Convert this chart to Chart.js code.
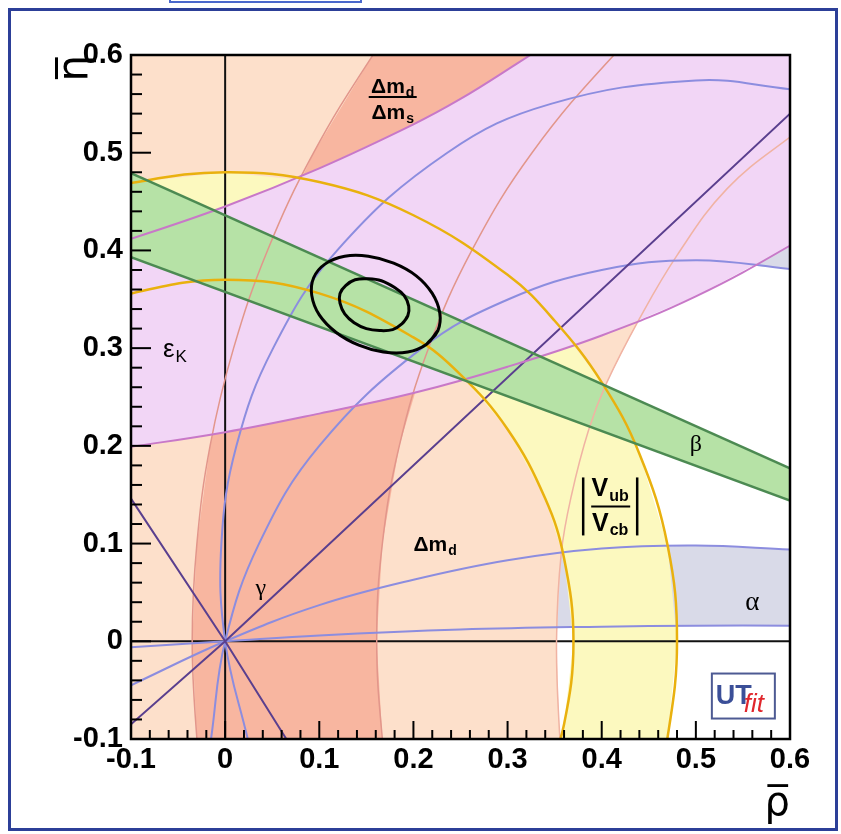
<!DOCTYPE html>
<html>
<head>
<meta charset="utf-8">
<script src="https://cdn.jsdelivr.net/npm/chart.js@4.4.1/dist/chart.umd.min.js"></script>
<style>
  html, body { margin: 0; padding: 0; background: #fff; }
  #wrap { position: relative; width: 841px; height: 834px; overflow: hidden; }
  #frame { position: absolute; left: 8px; top: 8px; width: 830px; height: 823px; border: 3px solid #2c3f98; box-sizing: border-box; pointer-events: none; }
  #tab { position: absolute; left: 169px; top: -4px; width: 193px; height: 7px; border: 2px solid #4a68cc; box-sizing: border-box; pointer-events: none; }
</style>
</head>
<body>
<div id="wrap">
  <canvas id="ut" width="841" height="834"></canvas>
  <div id="frame"></div>
  <div id="tab"></div>
</div>
<script>
// axis ticks
const xTickValues = [-0.1, 0, 0.1, 0.2, 0.3, 0.4, 0.5, 0.6];
const xTickLabels = ["-0.1", "0", "0.1", "0.2", "0.3", "0.4", "0.5", "0.6"];
const yTickValues = [-0.1, 0, 0.1, 0.2, 0.3, 0.4, 0.5, 0.6];
const yTickLabels = ["-0.1", "0", "0.1", "0.2", "0.3", "0.4", "0.5", "0.6"];

// constraint boundaries, [rho, eta]
// dm_d : inner edge of the wide band (left side is all inside)
const dmdEdge = [[0.66, 0.556], [0.6, 0.516], [0.533, 0.463], [0.48, 0.395], [0.44, 0.33], [0.405, 0.264],
  [0.386, 0.216], [0.368, 0.15], [0.357, 0.09], [0.352, 0.0], [0.355, -0.09], [0.36, -0.15]];
// dm_d / dm_s band
const dmsOuter = [[-0.024, -0.15], [-0.03, -0.1], [-0.035, 0], [-0.03, 0.1], [-0.016, 0.2], [0.009, 0.3],
  [0.045, 0.4], [0.094, 0.5], [0.157, 0.6], [0.195, 0.65]];
const dmsInner = [[0.175, -0.15], [0.167, -0.1], [0.161, 0], [0.167, 0.1], [0.185, 0.2], [0.216, 0.3],
  [0.262, 0.4], [0.326, 0.5], [0.413, 0.6], [0.469, 0.65]];
// |Vub/Vcb| ring
const vubOuter = [[-0.15, 0.456], [-0.1, 0.469], [0, 0.48], [0.1, 0.47], [0.2, 0.436], [0.3, 0.375],
  [0.35, 0.328], [0.4, 0.265], [0.44, 0.192], [0.47, 0.098], [0.48, 0], [0.47, -0.098], [0.456, -0.15]];
const vubInner = [[-0.15, 0.338], [-0.1, 0.356], [0, 0.37], [0.1, 0.356], [0.2, 0.311], [0.25, 0.273],
  [0.3, 0.217], [0.34, 0.146], [0.36, 0.085], [0.37, 0], [0.36, -0.085], [0.34, -0.146]];
// epsilon_K
const ekLower = [[-0.15, 0.192], [-0.1, 0.199], [0, 0.214], [0.1, 0.233], [0.2, 0.254], [0.3, 0.281],
  [0.4, 0.313], [0.5, 0.353], [0.6, 0.405], [0.65, 0.437]];
const ekUpper = [[-0.15, 0.398], [-0.1, 0.412], [0, 0.445], [0.1, 0.484], [0.2, 0.529], [0.25, 0.555],
  [0.3, 0.585], [0.35, 0.617], [0.4, 0.654]];
// sin 2 beta
const betaUpper = [[-0.1, 0.479], [0.6, 0.177]];
const betaLower = [[-0.1, 0.393], [0.6, 0.144]];
// alpha, lower and upper solutions
const alphaLowUpper = [[-0.1, -0.045], [0, 0], [0.1, 0.037], [0.2, 0.063], [0.3, 0.083], [0.4, 0.095], [0.5, 0.098], [0.6, 0.094]];
const alphaLowLower = [[-0.1, -0.006], [0, 0], [0.1, 0.006], [0.25, 0.012], [0.4, 0.015], [0.5, 0.016], [0.6, 0.016]];
const alphaArcA = [[0.024, -0.1], [0, 0], [-0.004, 0.1], [0.012, 0.2], [0.051, 0.3], [0.119, 0.4], [0.236, 0.5],
  [0.346, 0.55], [0.5, 0.574], [0.6, 0.565]];
const alphaArcB = [[-0.015, -0.1], [0, 0], [0.036, 0.1], [0.1, 0.2], [0.209, 0.3], [0.301, 0.35], [0.4, 0.38],
  [0.5, 0.39], [0.6, 0.381]];
// gamma
const gammaA = [[-0.1, -0.085], [0, 0], [0.6, 0.54]];
const gammaB = [[-0.1, 0.146], [0, 0], [0.065, -0.1]];
// fit contours (95% and 68%), traced around; first two points repeated to close smoothly
const contour95 = [[0.226, 0.318], [0.214, 0.304], [0.194, 0.296], [0.168, 0.296], [0.142, 0.303], [0.118, 0.316],
  [0.1, 0.334], [0.092, 0.354], [0.094, 0.372], [0.106, 0.386], [0.127, 0.394], [0.152, 0.394],
  [0.179, 0.387], [0.203, 0.374], [0.22, 0.356], [0.228, 0.336], [0.226, 0.318], [0.214, 0.304]];
const contour68 = [[0.194, 0.333], [0.188, 0.325], [0.178, 0.319], [0.164, 0.318], [0.15, 0.32], [0.137, 0.326],
  [0.127, 0.335], [0.122, 0.346], [0.122, 0.356], [0.128, 0.364], [0.138, 0.37], [0.152, 0.371],
  [0.166, 0.369], [0.18, 0.362], [0.19, 0.354], [0.195, 0.343], [0.194, 0.333], [0.188, 0.325]];
// axes through the origin
const rhoZero = [[0, -0.1], [0, 0.6]];
const etaZero = [[-0.1, 0], [0.6, 0]];

const pts = arr => arr.map(p => ({ x: p[0], y: p[1] }));
const rev = arr => arr.slice().reverse();

function area(points, color, order) {
  return { data: pts(points), fill: 'shape', backgroundColor: color, borderWidth: 0, tension: 0, order: order };
}
function curve(points, color, width, tension, order) {
  return { data: pts(points), fill: false, borderColor: color, borderWidth: width, tension: tension, order: order };
}

const datasets = [
  // filled regions, bottom first
  area(alphaLowUpper.concat(rev(alphaLowLower)), '#d9dae8', 100),
  area(alphaArcA.concat(rev(alphaArcB)), '#d9dae8', 99),
  area([[-0.2, 0.7], [0.7, 0.7], [0.7, 0.556]].concat(dmdEdge, [[0.36, -0.2], [-0.2, -0.2]]), '#fde0cb', 90),
  area(dmsOuter.concat(rev(dmsInner)), '#f8b6a0', 80),
  area(vubOuter.concat(rev(vubInner)), '#fcf9bf', 70),
  area(ekLower.concat([[0.7, 0.45], [0.7, 0.7], [0.4, 0.7]], rev(ekUpper)), '#f2d6f6', 60),
  area(betaUpper.concat(rev(betaLower)), '#b6e2a6', 50),
  // boundary lines
  curve(rhoZero, '#111', 2, 0, 30),
  curve(etaZero, '#111', 2, 0, 30),
  curve(dmdEdge, '#f0b3a3', 1.5, 0.4, 20),
  curve(dmsOuter, '#e2968b', 1.5, 0.4, 20),
  curve(dmsInner, '#e2968b', 1.5, 0.4, 20),
  curve(alphaLowUpper, '#8c8ddf', 2, 0.4, 18),
  curve(alphaLowLower, '#8c8ddf', 2, 0.4, 18),
  curve(alphaArcA, '#8c8ddf', 2, 0.4, 18),
  curve(alphaArcB, '#8c8ddf', 2, 0.4, 18),
  curve(gammaA, '#5a3f8e', 2, 0, 16),
  curve(gammaB, '#5a3f8e', 2, 0, 16),
  curve(ekLower, '#c878c8', 2, 0.4, 14),
  curve(ekUpper, '#c878c8', 2, 0.4, 14),
  curve(vubOuter, '#e9b10e', 2.5, 0.4, 12),
  curve(vubInner, '#e9b10e', 2.5, 0.4, 12),
  curve(betaUpper, '#4c8a52', 2.5, 0, 10),
  curve(betaLower, '#4c8a52', 2.5, 0, 10),
  curve(contour95, '#000', 3, 0.4, 1),
  curve(contour68, '#000', 3, 0.4, 1)
];

// inward ROOT-style ticks and the plot frame
const framePlugin = {
  id: 'frame',
  afterDatasetsDraw(chart) {
    const { ctx, chartArea: a, scales: { x, y } } = chart;
    ctx.save();
    ctx.strokeStyle = '#000';
    ctx.lineWidth = 2.5;
    ctx.strokeRect(a.left, a.top, a.right - a.left, a.bottom - a.top);
    ctx.lineWidth = 2;
    for (let i = 0; i < xTickValues.length; i++) {
      const v = xTickValues[i];
      const p = x.getPixelForValue(v);
      ctx.beginPath(); ctx.moveTo(p, a.bottom); ctx.lineTo(p, a.bottom - 18); ctx.stroke();
      if (i < xTickValues.length - 1) {
        for (let k = 1; k < 5; k++) {
          const q = x.getPixelForValue(v + k * 0.02);
          ctx.beginPath(); ctx.moveTo(q, a.bottom); ctx.lineTo(q, a.bottom - 9); ctx.stroke();
        }
      }
    }
    for (let i = 0; i < yTickValues.length; i++) {
      const v = yTickValues[i];
      const p = y.getPixelForValue(v);
      ctx.beginPath(); ctx.moveTo(a.left, p); ctx.lineTo(a.left + 20, p); ctx.stroke();
      if (i < yTickValues.length - 1) {
        for (let k = 1; k < 5; k++) {
          const q = y.getPixelForValue(v + k * 0.02);
          ctx.beginPath(); ctx.moveTo(a.left, q); ctx.lineTo(a.left + 11, q); ctx.stroke();
        }
      }
    }
    ctx.restore();
  }
};

function subText(ctx, base, sub, x, y, f1, f2, drop) {
  ctx.font = f1;
  const w = ctx.measureText(base).width;
  ctx.fillText(base, x, y);
  ctx.font = f2;
  ctx.fillText(sub, x + w + 1, y + drop);
  return w + 1 + ctx.measureText(sub).width;
}
function subWidth(ctx, base, sub, f1, f2) {
  ctx.font = f1; const w = ctx.measureText(base).width;
  ctx.font = f2; return w + 1 + ctx.measureText(sub).width;
}

const B21 = 'bold 21px "Liberation Sans"', B14 = 'bold 14px "Liberation Sans"';
const B25 = 'bold 25px "Liberation Sans"', B16 = 'bold 16px "Liberation Sans"';

// constraint labels
const labelPlugin = {
  id: 'labels',
  afterDatasetsDraw(chart) {
    const { ctx, scales: { x, y } } = chart;
    ctx.save();
    ctx.fillStyle = '#000';
    ctx.strokeStyle = '#000';
    ctx.textBaseline = 'alphabetic';
    ctx.textAlign = 'left';

    // dm_d / dm_s
    let cx = x.getPixelForValue(0.178), cy = y.getPixelForValue(0.557);
    let w = subWidth(ctx, '\u0394m', 'd', B21, B14);
    subText(ctx, '\u0394m', 'd', cx - w / 2, cy - 4, B21, B14, 4);
    w = subWidth(ctx, '\u0394m', 's', B21, B14);
    subText(ctx, '\u0394m', 's', cx - w / 2, cy + 22, B21, B14, 4);
    ctx.lineWidth = 2;
    ctx.beginPath(); ctx.moveTo(cx - 24, cy); ctx.lineTo(cx + 24, cy); ctx.stroke();

    // dm_d
    subText(ctx, '\u0394m', 'd', x.getPixelForValue(0.2), y.getPixelForValue(0.092), B21, B14, 4);

    // eps_K
    subText(ctx, '\u03b5', 'K', x.getPixelForValue(-0.066), y.getPixelForValue(0.291),
      '26px "Liberation Sans"', '17px "Liberation Sans"', 5);

    // greek single letters
    ctx.textAlign = 'center';
    ctx.font = '24px "Liberation Serif"';
    ctx.fillText('\u03b3', x.getPixelForValue(0.038), y.getPixelForValue(0.047));
    ctx.fillText('\u03b2', x.getPixelForValue(0.5), y.getPixelForValue(0.195));
    ctx.font = '27px "Liberation Serif"';
    ctx.fillText('\u03b1', x.getPixelForValue(0.56), y.getPixelForValue(0.032));

    // |Vub / Vcb|
    ctx.textAlign = 'left';
    cx = x.getPixelForValue(0.409); cy = y.getPixelForValue(0.138);
    w = subWidth(ctx, 'V', 'ub', B25, B16);
    subText(ctx, 'V', 'ub', cx - w / 2, cy - 10, B25, B16, 5);
    w = subWidth(ctx, 'V', 'cb', B25, B16);
    subText(ctx, 'V', 'cb', cx - w / 2, cy + 25, B25, B16, 4);
    ctx.lineWidth = 2;
    ctx.beginPath(); ctx.moveTo(cx - 19, cy); ctx.lineTo(cx + 20, cy); ctx.stroke();
    ctx.lineWidth = 2.5;
    ctx.beginPath(); ctx.moveTo(cx - 27, cy - 29); ctx.lineTo(cx - 27, cy + 29); ctx.stroke();
    ctx.beginPath(); ctx.moveTo(cx + 27, cy - 29); ctx.lineTo(cx + 27, cy + 29); ctx.stroke();

    // UTfit logo
    const lx = x.getPixelForValue(0.517), ly = y.getPixelForValue(-0.033);
    ctx.fillStyle = '#fff';
    ctx.fillRect(lx, ly, 63, 45);
    ctx.strokeStyle = '#4d5a93';
    ctx.lineWidth = 2;
    ctx.strokeRect(lx, ly, 63, 45);
    ctx.fillStyle = '#3b4f98';
    ctx.font = 'bold 27px "Liberation Sans Narrow", "Liberation Sans"';
    ctx.fillText('UT', lx + 4, ly + 30);
    ctx.fillStyle = '#e0262c';
    ctx.font = 'italic 26px "Liberation Sans Narrow", "Liberation Sans"';
    ctx.fillText('fit', lx + 32, ly + 38);
    ctx.restore();
  }
};

const tickFont = { family: 'Liberation Sans', size: 29, weight: 'bold' };

new Chart(document.getElementById('ut'), {
  type: 'line',
  data: { datasets: datasets },
  options: {
    responsive: false,
    animation: false,
    events: [],
    layout: { padding: { top: 55, right: 51, left: 0, bottom: 0 } },
    elements: { point: { radius: 0 } },
    plugins: {
      legend: { display: false },
      tooltip: { enabled: false },
      filler: { drawTime: 'beforeDatasetsDraw' }
    },
    scales: {
      x: {
        type: 'linear', min: -0.1, max: 0.6,
        afterFit(s) { s.height = 95; },
        afterBuildTicks(s) { s.ticks = xTickValues.map(v => ({ value: v })); },
        grid: { display: false, drawTicks: false },
        border: { display: false },
        ticks: { callback: (v, i) => xTickLabels[i], color: '#000', font: tickFont, padding: 4, autoSkip: false, maxRotation: 0 },
        title: { display: true, text: '\u03c1\u0305', align: 'end', color: '#000',
          font: { family: 'DejaVu Sans', size: 40 }, padding: { top: 0, bottom: 5 } }
      },
      y: {
        type: 'linear', min: -0.1, max: 0.6,
        afterFit(s) { s.width = 131; },
        afterBuildTicks(s) { s.ticks = yTickValues.map(v => ({ value: v })); },
        grid: { display: false, drawTicks: false },
        border: { display: false },
        ticks: { callback: (v, i) => yTickLabels[i], color: '#000', font: tickFont, padding: 8, autoSkip: false },
        title: { display: true, text: '\u03b7\u0305', align: 'end', color: '#000',
          font: { family: 'DejaVu Sans', size: 42 }, padding: { top: 51, bottom: 0 } }
      }
    }
  },
  plugins: [framePlugin, labelPlugin]
});
</script>
</body>
</html>
